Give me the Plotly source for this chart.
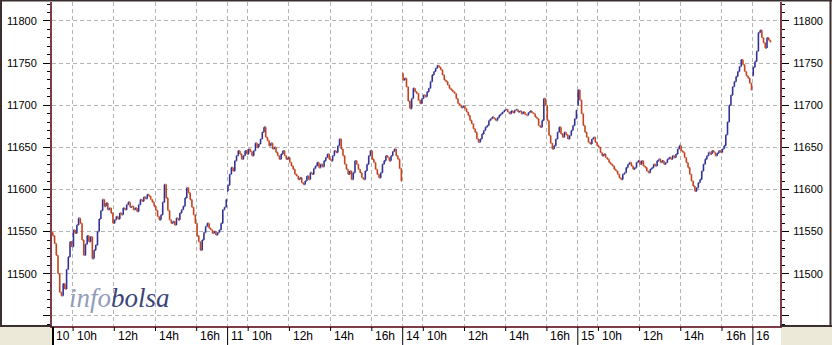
import plotly.graph_objects as go

# ---------------- data (5-minute bars, closes) ----------------
day_names = ["10", "11", "14", "15", "16"]
hour_labels = ["10h", "12h", "14h", "16h"]
hour_offsets = [1, 3, 5, 7]          # hours after the 9:00 open
SESSION_H = 8.5                       # 9:00 - 17:30
BAR_MIN = 5

day_open = [11549, 11598, 11738, 11700, 11735]

close_d10 = [11545, 11536, 11522, 11500, 11478, 11474, 11488, 11482, 11505, 11520,
             11538, 11532, 11552, 11548, 11558, 11566, 11560, 11540, 11522, 11535,
             11545, 11538, 11544, 11518, 11528, 11534, 11550, 11565, 11575, 11588,
             11580, 11584, 11576, 11578, 11572, 11560, 11564, 11568, 11565, 11572,
             11570, 11578, 11576, 11582, 11585, 11579, 11580, 11576, 11578, 11574,
             11582, 11588, 11586, 11591, 11589, 11594, 11592, 11588, 11585, 11580,
             11575, 11568, 11564, 11570, 11585, 11606, 11590, 11575, 11564, 11560,
             11562, 11558, 11566, 11564, 11572, 11576, 11580, 11590, 11602, 11596,
             11588, 11579, 11570, 11560, 11545, 11538, 11528, 11540, 11549, 11556,
             11560, 11554, 11552, 11548, 11550, 11546, 11549, 11552, 11560, 11576,
             11579, 11588]
close_d11 = [11605, 11618, 11626, 11622, 11634, 11640, 11646, 11642, 11636, 11640,
             11646, 11642, 11648, 11645, 11640, 11646, 11655, 11650, 11654, 11660,
             11668, 11674, 11662, 11658, 11652, 11655, 11648, 11650, 11644, 11640,
             11636, 11642, 11646, 11640, 11636, 11638, 11632, 11628, 11624, 11618,
             11616, 11612, 11614, 11608, 11606, 11610, 11616, 11612, 11620, 11618,
             11625, 11628, 11632, 11626, 11630, 11627, 11634, 11638, 11642, 11636,
             11634, 11640, 11646, 11644, 11652, 11660, 11648, 11640, 11630, 11624,
             11618, 11622, 11612, 11620, 11634, 11630, 11624, 11620, 11614, 11612,
             11622, 11630, 11640, 11646, 11636, 11632, 11624, 11618, 11614, 11620,
             11630, 11634, 11640, 11638, 11634, 11640, 11645, 11648, 11640, 11636,
             11625, 11610]
close_d14 = [11730, 11732, 11722, 11705, 11696, 11708, 11720, 11716, 11714, 11706,
             11702, 11708, 11712, 11710, 11716, 11720, 11728, 11736, 11740, 11744,
             11747, 11745, 11742, 11736, 11730, 11728, 11724, 11720, 11718, 11716,
             11714, 11708, 11702, 11700, 11697, 11699, 11696, 11692, 11688, 11682,
             11678, 11672, 11668, 11660, 11656, 11660, 11666, 11670, 11674, 11676,
             11682, 11684, 11686, 11684, 11682, 11685, 11688, 11690, 11692, 11694,
             11695, 11692, 11690, 11693, 11691, 11694, 11695, 11692, 11693, 11690,
             11692, 11689, 11688, 11691, 11693, 11691, 11690, 11686, 11684, 11676,
             11674, 11682, 11708, 11700, 11682, 11664, 11655, 11648, 11652, 11660,
             11668, 11674, 11666, 11662, 11668, 11665, 11660, 11664, 11670, 11676,
             11684, 11694]
close_d15 = [11718, 11706, 11690, 11676, 11668, 11662, 11656, 11654, 11660, 11662,
             11656, 11652, 11650, 11644, 11640, 11642, 11638, 11636, 11632, 11630,
             11628, 11624, 11622, 11618, 11614, 11612, 11618, 11620, 11626, 11630,
             11632, 11628, 11624, 11626, 11632, 11634, 11630, 11634, 11628, 11626,
             11622, 11620, 11624, 11626, 11630, 11628, 11634, 11636, 11632, 11634,
             11630, 11632, 11636, 11638, 11636, 11640, 11638, 11642, 11648, 11652,
             11646, 11644, 11638, 11632, 11626, 11618, 11610, 11604, 11598, 11602,
             11608, 11612, 11622, 11630, 11636, 11640, 11644, 11642, 11646, 11644,
             11640, 11643, 11646, 11644, 11648, 11652, 11665, 11680, 11700, 11712,
             11722, 11728, 11734, 11740, 11746, 11754, 11748, 11740, 11735, 11732,
             11726, 11718]
close_d16 = [11745, 11752, 11764, 11786, 11789, 11780, 11774, 11768, 11780, 11777,
             11775]

closes_by_day = [close_d10, close_d11, close_d14, close_d15, close_d16]

y_major = [11450, 11500, 11550, 11600, 11650, 11700, 11750, 11800]
y_labels = ["", "11500", "11550", "11600", "11650", "11700", "11750", "11800"]
Y_RANGE = [11438, 11822.5]
X_END = 35.34

# ---------------- build OHLC ----------------
xs, op, hi, lo, cl = [], [], [], [], []
for d, closes in enumerate(closes_by_day):
    prev = day_open[d]
    for k, c in enumerate(closes):
        xs.append(d * SESSION_H + (k + 0.5) * BAR_MIN / 60)
        op.append(prev)
        cl.append(c)
        hi.append(max(prev, c))
        lo.append(min(prev, c))
        prev = c

UP = "#323296"
DOWN = "#c4421c"
MAROON = "#7d3c4a"
FRAME = "#3a2e2e"
GRID = "#b4b4b4"
BEIGE = "#ece9d8"

fig = go.Figure()
fig.add_trace(go.Ohlc(
    x=xs, open=op, high=hi, low=lo, close=cl,
    increasing=dict(line=dict(color=UP, width=1.6)),
    decreasing=dict(line=dict(color=DOWN, width=1.6)),
    tickwidth=0.45, showlegend=False, hoverinfo="skip",
))
fig.add_trace(go.Scatter(x=[None], y=[None], yaxis="y2", showlegend=False, hoverinfo="skip"))

day_starts = [d * SESSION_H for d in range(len(day_names))]
hour_ticks = [d * SESSION_H + h for d in range(len(day_names) - 1) for h in hour_offsets]
grid_x = sorted(day_starts[1:] + hour_ticks)

L, R, T, B = 52, 52, 2, 19
W, H = 832, 345
PW, PH = W - L - R, H - T - B


def xp(px):
    return (px - L) / PW


def yp(py):
    return (H - B - py) / PH


yaxis_common = dict(
    range=Y_RANGE, tickmode="array", tickvals=y_major, ticktext=y_labels,
    ticks="outside", ticklen=7, tickwidth=1, tickcolor="#000000",
    tickfont=dict(family="Liberation Sans, Arial", size=11, color="#000000"),
    showline=True, linecolor=MAROON, linewidth=2, zeroline=False,
    minor=dict(tickmode="linear", tick0=0, dtick=10, ticks="outside", ticklen=3,
               tickwidth=1, tickcolor="#000000", showgrid=False),
    fixedrange=True,
)

fig.update_layout(
    width=W, height=H, autosize=False,
    margin=dict(l=L, r=R, t=T, b=B, pad=0),
    paper_bgcolor="#ffffff", plot_bgcolor="#ffffff",
    xaxis=dict(range=[0, X_END], tickmode="array", tickvals=grid_x,
               showticklabels=False, ticks="", showgrid=True, gridcolor=GRID,
               gridwidth=1, griddash="4px,3px", zeroline=False,
               showline=True, linecolor=MAROON, linewidth=2,
               rangeslider=dict(visible=False), fixedrange=True),
    yaxis=dict(side="left", showgrid=True, gridcolor=GRID, gridwidth=1,
               griddash="4px,3px", ticklabelstandoff=4, **yaxis_common),
    yaxis2=dict(side="right", overlaying="y", anchor="x", showgrid=False,
                ticklabelstandoff=2, **yaxis_common),
)

shapes = []
# beige corners under the side panels
shapes.append(dict(type="rect", xref="paper", yref="paper", x0=xp(-2), x1=xp(L), y0=yp(H + 2), y1=yp(H - B + 1),
                   fillcolor=BEIGE, line=dict(width=0), layer="below"))
shapes.append(dict(type="rect", xref="paper", yref="paper", x0=xp(W - R + 1), x1=xp(W + 2), y0=yp(H + 2), y1=yp(H - B + 1),
                   fillcolor=BEIGE, line=dict(width=0), layer="below"))
# outer frame
for x0, y0, x1, y1 in [(0, 0.5, W, 0.5), (1, 0, 1, H - B), (W - 1.5, 0, W - 1.5, H - B),
                       (0, H - B, L, H - B), (W - R, H - B, W, H - B)]:
    shapes.append(dict(type="line", xref="paper", yref="paper", x0=xp(x0), x1=xp(x1), y0=yp(y0), y1=yp(y1),
                       line=dict(color=FRAME, width=2)))
# day separators in the label band
for i, ds in enumerate(day_starts):
    px = L + ds / X_END * PW
    off = 1 if i == 0 else 0.5
    shapes.append(dict(type="line", xref="paper", yref="paper", x0=xp(px + off),
                       x1=xp(px + off), y0=yp(H - B + 1), y1=yp(H + 1),
                       line=dict(color="#000000", width=2 if i == 0 else 1)))
# hour ticks in the label band
for ht in hour_ticks:
    px = L + ht / X_END * PW
    shapes.append(dict(type="line", xref="paper", yref="paper", x0=xp(px + 0.5), x1=xp(px + 0.5),
                       y0=yp(H - B + 1), y1=yp(H - B + 5), line=dict(color="#000000", width=1)))
fig.update_layout(shapes=shapes)

ann = []
lab_y = yp(336)
for ds, name in zip(day_starts, day_names):
    ann.append(dict(x=ds, xref="x", y=lab_y, yref="paper", text=name, showarrow=False,
                    xanchor="left", yanchor="middle", xshift=2,
                    font=dict(family="Liberation Sans, Arial", size=12, color="#000000")))
for d in range(len(day_names) - 1):
    for h, lab in zip(hour_offsets, hour_labels):
        ann.append(dict(x=d * SESSION_H + h, xref="x", y=lab_y, yref="paper", text=lab, showarrow=False,
                        xanchor="left", yanchor="middle", xshift=2,
                        font=dict(family="Liberation Sans, Arial", size=12, color="#000000")))
# watermark
ann.append(dict(x=xp(67), xref="paper", y=yp(298), yref="paper", showarrow=False,
                xanchor="left", yanchor="middle",
                text="<i><span style='color:#939cba'>info</span><span style='color:#3b4677'>bolsa</span></i>",
                font=dict(family="Liberation Serif, Times New Roman", size=27)))
fig.update_layout(annotations=ann)

fig.write_html("out.html")
